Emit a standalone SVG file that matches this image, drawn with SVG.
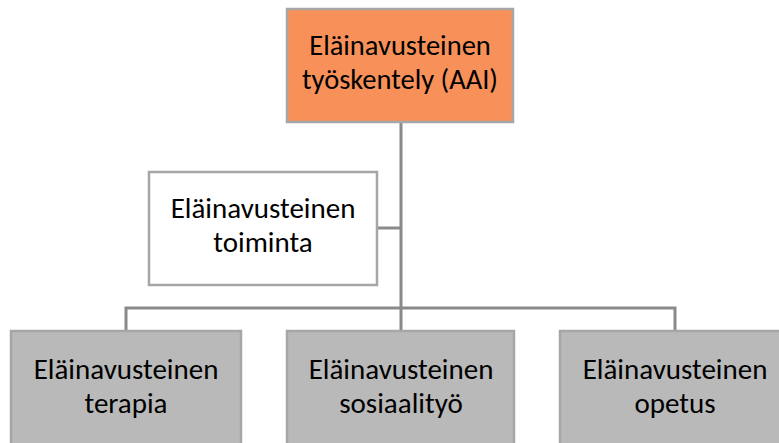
<svg xmlns="http://www.w3.org/2000/svg" width="779" height="443" viewBox="0 0 779 443">
<style>
.box{stroke:#a6a6a6;stroke-width:2.5}
.top{fill:#f79159}
.white{fill:#ffffff}
.grey{fill:#b9b9b9}
.conn{fill:none;stroke:#8a8a8a;stroke-width:3}
text{font-family:Carlito,"Liberation Sans",Arial,sans-serif;font-size:29px;fill:#000;text-anchor:middle}
text.t{font-size:28.5px}
</style>
<rect width="779" height="443" fill="#ffffff"/>
<g id="connectors">
<path class="conn" d="M401 122 V308 M377 228 H401 M126 331 V308 H675 V331 M401 308 V331"/>
</g>
<g id="node-aai">
<rect class="box top" x="287" y="9" width="226" height="113"/>
<text class="t" x="400" y="55">Eläinavusteinen</text>
<text class="t" x="400" y="89">työskentely (AAI)</text>
</g>
<g id="node-toiminta">
<rect class="box white" x="149" y="172" width="228" height="113"/>
<text x="263" y="218">Eläinavusteinen</text>
<text x="263" y="252">toiminta</text>
</g>
<g id="node-terapia">
<rect class="box grey" x="11" y="331" width="230" height="117"/>
<text x="126" y="379">Eläinavusteinen</text>
<text x="126" y="413">terapia</text>
</g>
<g id="node-sosiaalityo">
<rect class="box grey" x="287" y="331" width="227" height="117"/>
<text x="401" y="379">Eläinavusteinen</text>
<text x="401" y="413">sosiaalityö</text>
</g>
<g id="node-opetus">
<rect class="box grey" x="560" y="331" width="230" height="117"/>
<text x="675" y="379">Eläinavusteinen</text>
<text x="675" y="413">opetus</text>
</g>
</svg>
